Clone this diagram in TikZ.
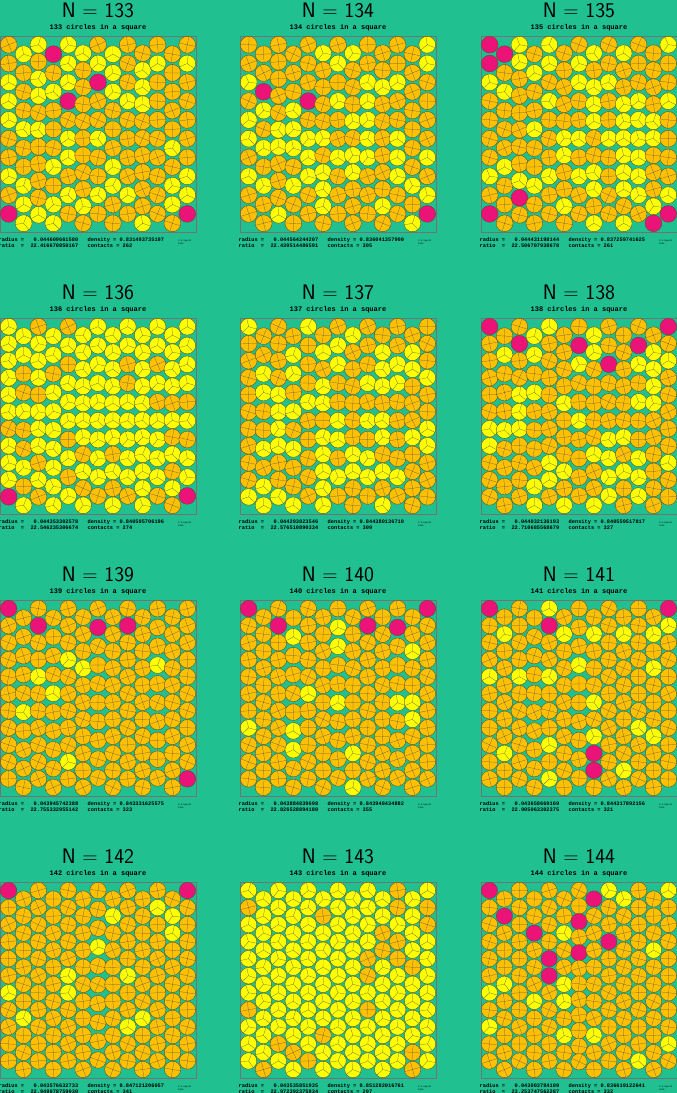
\documentclass[tikz,border=0pt]{standalone}
\usepackage{fontspec}
\setmonofont{Liberation Mono}
\definecolor{bgteal}{RGB}{33,192,145}
\definecolor{discorange}{RGB}{255,192,0}
\definecolor{discyellow}{RGB}{255,255,0}
\definecolor{discpink}{RGB}{236,18,120}
\definecolor{discedge}{RGB}{80,80,40}
\tikzset{
  disc/.style={draw=discedge,line width=0.35pt},
  spoke/.style={draw=black!65,line width=0.22pt},
  box/.style={draw=black!55,line width=0.45pt},
  ntitle/.style={font=\sffamily\fontsize{21}{21}\selectfont,inner sep=0pt},
  subtitle/.style={font=\ttfamily\bfseries\fontsize{7}{7}\selectfont,inner sep=0pt},
  info/.style={font=\ttfamily\bfseries\fontsize{5.3}{5.3}\selectfont,inner sep=0pt,anchor=west},
  stamp/.style={font=\ttfamily\fontsize{2.2}{2.6}\selectfont,inner sep=0pt,anchor=west,align=left}
}
\def\pinkname{discpink}
\def\yellowname{discyellow}
\newcommand\packing[7]{%
  \pgfmathsetseed{#5}%
  \pgfmathsetmacro\discr{#4*196}%
  \pgfmathsetmacro\drawr{0.965*\discr}%
  \pgfmathsetmacro\colstep{(196-2*\discr)/12}%
  \pgfmathtruncatemacro\nshort{143-#1}%
  \draw[box] (#2,#3) rectangle ++(196,196);
  \foreach \i in {0,...,12}{%
    \pgfmathtruncatemacro\rk{{7,3,10,1,5,12,0,9,4,11,2,8,6}[\i]}%
    \pgfmathtruncatemacro\nc{11-(\rk<\nshort)+and(#1==144,\i==6)}%
    \pgfmathsetmacro\colsp{(196-2*\discr)/(\nc-0.5)}%
    \pgfmathsetmacro\coloff{mod(\i,2)*\colsp/2}%
    \pgfmathsetmacro\cx{\discr+\i*\colstep}%
    \pgfmathtruncatemacro\jmax{\nc-1}%
    \foreach \j in {0,...,\jmax}{%
      \pgfmathsetmacro\cy{\discr+\coloff+\j*\colsp}%
      \pgfmathsetmacro\rndv{rnd}%
      \pgfmathsetmacro\spin{rnd*50-25}%
      \ifdim\rndv pt<#6pt \gdef\disccol{discyellow}\else\gdef\disccol{discorange}\fi
      \foreach \px/\py in {#7}{%
        \pgfmathtruncatemacro\hit{and(abs(\cx-\px)<=\colstep/2,abs(\cy-\py)<=\colsp/2+0.5)}%
        \ifnum\hit=1 \gdef\disccol{discpink}\fi}%
      \coordinate (c) at (#2+\cx,#3+\cy);
      \filldraw[disc,fill=\disccol] (c) circle (\drawr pt);
      \ifx\disccol\pinkname
        \fill[black!60] (c) circle (0.4pt);
      \else\ifx\disccol\yellowname
        \draw[spoke] (c) -- +(90+\spin:\drawr pt) (c) -- +(210+\spin:\drawr pt) (c) -- +(330+\spin:\drawr pt);
      \else
        \draw[spoke] (c) +(\spin:\drawr pt) -- +(180+\spin:\drawr pt) (c) +(90+\spin:\drawr pt) -- +(270+\spin:\drawr pt);
      \fi\fi
    }%
  }%
}
\newcommand\packinfo[7]{%
  \node[ntitle] (title#1) at (#2+98,#3-26) {N = #1};
  \node[subtitle] (sub#1) at (#2+98,#3-8) {#1 circles in a square};
  \node[info] (rad#1) at (#2-1.5,#3+204) {radius~=~~~#4~~~density~=~#5};
  \node[info] (rat#1) at (#2-1.5,#3+210) {ratio~~=~~#6~~~contacts~=~#7};
  \node[stamp] (stamp#1) at (#2+178,#3+206) {©~E.Specht\\2010};
}
\begin{document}
\begin{tikzpicture}[x=1pt,y=-1pt]
    \fill[bgteal] (0,0) rectangle (677,1093);
    \useasboundingbox (0,0) rectangle (677,1093);

        \packing{133}{0}{36}{0.044609661580}{11}{0.33}{54/27,95/41,65/58,8/186,187/186}
        \packinfo{133}{0}{36}{0.044609661580}{0.831493735197}{22.416670850167}{262}
        \packing{134}{240}{36}{0.044564244207}{12}{0.35}{24/48,67/61,187/186}
        \packinfo{134}{240}{36}{0.044564244207}{0.836041357900}{22.439514486591}{305}
        \packing{135}{481}{36}{0.044431198144}{13}{0.30}{9/9,28/11,8/26,39/169,187/169,170/184,9/186}
        \packinfo{135}{481}{36}{0.044431198144}{0.837259741625}{22.506707938678}{261}

        \packing{136}{0}{318}{0.044353302578}{14}{0.75}{8/186,187/186}
        \packinfo{136}{0}{318}{0.044353302578}{0.840505706196}{22.546235306674}{274}
        \packing{137}{240}{318}{0.044293823546}{15}{0.45}{-99/-99}
        \packinfo{137}{240}{318}{0.044293823546}{0.844380136710}{22.576510890334}{309}
        \packing{138}{481}{318}{0.044032136193}{16}{0.30}{9/8,42/24,99/25,155/26,187/13,127/47}
        \packinfo{138}{481}{318}{0.044032136193}{0.840559517817}{22.710685568679}{327}

        \packing{139}{0}{600}{0.043945742388}{17}{0.08}{8/8,40/27,93/24,127/28,187/186}
        \packinfo{139}{0}{600}{0.043945742388}{0.843331625575}{22.755332955142}{323}
        \packing{140}{240}{600}{0.043884839698}{18}{0.07}{10/8,40/30,187/8,126/28,157/32}
        \packinfo{140}{240}{600}{0.043884839698}{0.843948434882}{22.826528894180}{355}
        \packing{141}{481}{600}{0.043658669169}{19}{0.15}{9/8,68/32,187/16,113/162}
        \packinfo{141}{481}{600}{0.043658669169}{0.844317892156}{22.905063302375}{321}

        \packing{142}{0}{882}{0.043576632733}{20}{0.10}{8/15,187/15}
        \packinfo{142}{0}{882}{0.043576632733}{0.847121206057}{22.948078759030}{341}
        \packing{143}{240}{882}{0.043535851935}{21}{0.80}{-99/-99}
        \packinfo{143}{240}{882}{0.043535851935}{0.851282016761}{22.972392375834}{297}
        \packing{144}{481}{882}{0.043003784109}{22}{0.07}{9/8,113/8,27/38,96/39,52/58,128/56,68/85,99/76}
        \packinfo{144}{481}{882}{0.043003784109}{0.836619122641}{23.253747562287}{332}
    \end{tikzpicture}
\end{document}
